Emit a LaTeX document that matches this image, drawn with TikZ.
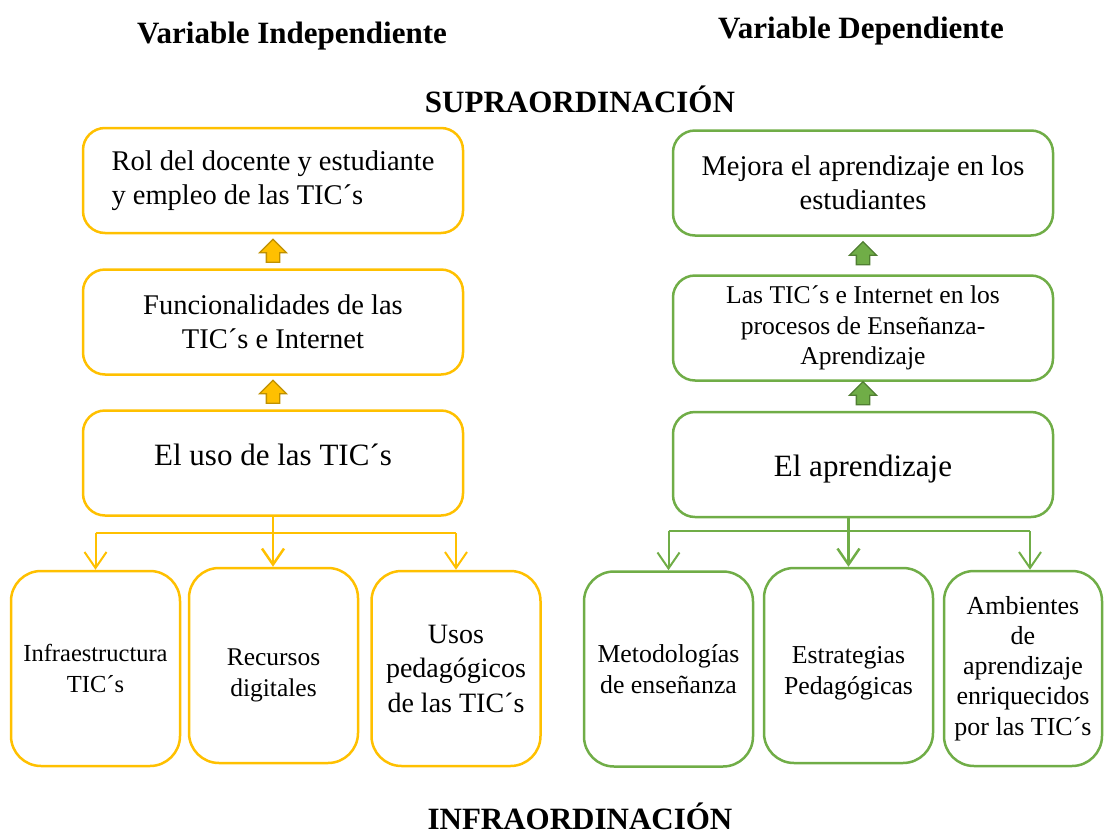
\documentclass[tikz,border=0pt]{standalone}
\usepackage{fontspec}
\setmainfont{Liberation Serif}
\usepackage{tikz}
\usetikzlibrary{arrows.meta,shapes.arrows}

\definecolor{amber}{HTML}{FFC000}
\definecolor{amberdark}{HTML}{BF9000}
\definecolor{leaf}{HTML}{70AD47}
\definecolor{leafdark}{HTML}{507E32}

\tikzset{
  headline/.style={font=\bfseries\fontsize{31}{37}\selectfont, inner sep=0pt, anchor=base},
  topbox/.style={draw, rounded corners=22pt, line width=2.5pt, minimum width=380pt,
    minimum height=105pt, align=center, inner sep=0pt, font=\fontsize{28.5}{34}\selectfont},
  lowbox/.style={draw, rounded corners=30pt, line width=2.5pt, minimum width=169pt,
    minimum height=195pt, align=center, inner sep=0pt},
  ybox/.style={topbox, amber},
  gbox/.style={topbox, leaf},
  ylow/.style={lowbox, amber},
  glow/.style={lowbox, leaf},
  lift/.style={single arrow, shape border rotate=90, minimum height=23pt, minimum width=26pt,
    single arrow head extend=7pt, inner sep=6pt, line width=1.3pt},
  conn/.style={line width=2.5pt, -{Straight Barb[length=16pt,width=22pt]}},
}

\begin{document}
\begin{tikzpicture}[x=1pt,y=-1pt,>=Stealth]
\useasboundingbox (0,0) rectangle (1104,836);

% titulos
\node[headline] (tindep) at (292,43) {Variable Independiente};
\node[headline] (tdep) at (861,38) {Variable Dependiente};
\node[headline] (tsupra) at (580,112) {SUPRAORDINACIÓN};
\node[headline] (tinfra) at (580,829) {INFRAORDINACIÓN};

% variable independiente
\node[ybox, align=left, text=black] (rol) at (273,180.5) {Rol del docente y estudiante\\y empleo de las TIC´s};
\node[ybox, text=black] (func) at (273,322) {Funcionalidades de las\\TIC´s e Internet};
\node[ybox, text=black, font=\fontsize{31}{37}\selectfont, text depth=16pt] (uso) at (273,463) {El uso de las TIC´s};

\node[lift, fill=amber, draw=amberdark] (yup1) at (273,254) {};
\node[lift, fill=amber, draw=amberdark] (yup2) at (273,395) {};

\node[ylow, text=black, font=\fontsize{24.5}{31}\selectfont] (infra) at (95.5,668.5) {Infraestructura\\TIC´s};
\node[ylow, text=black, font=\fontsize{25.5}{31}\selectfont] (rec) at (273.5,665.5) {\rule{0pt}{37pt}Recursos\\digitales};
\node[ylow, text=black, font=\fontsize{28}{34.5}\selectfont] (usos) at (456,668.5) {Usos\\pedagógicos\\de las TIC´s};

% variable dependiente
\node[gbox, text=black] (mej) at (863,183) {Mejora el aprendizaje en los\\estudiantes};
\node[gbox, text=black, font=\fontsize{25.6}{30.5}\selectfont] (tic) at (863,328) {Las TIC´s e Internet en los\\procesos de Enseñanza-\\Aprendizaje};
\node[gbox, text=black, font=\fontsize{31}{37}\selectfont, text height=23pt, text depth=0pt] (apr) at (863,464.5) {El aprendizaje};

\node[lift, fill=leaf, draw=leafdark] (gup1) at (863,256.5) {};
\node[lift, fill=leaf, draw=leafdark] (gup2) at (863,396.5) {};

\node[glow, text=black, font=\fontsize{25.8}{31}\selectfont] (met) at (668.5,669) {Metodologías\\de enseñanza};
\node[glow, text=black, font=\fontsize{25.8}{31}\selectfont] (est) at (848.5,665.5) {\rule{0pt}{32pt}Estrategias\\Pedagógicas};
\node[glow, text=black, font=\fontsize{26}{30.2}\selectfont, minimum width=158pt] (amb) at (1023,668.5) {Ambientes\\de\\aprendizaje\\enriquecidos\\por las TIC´s};

% conectores
\coordinate (yfork) at (273,533);
\draw[conn, amber] (uso.south) -- (uso.south |- rec.north);
\draw[amber, line width=1.5pt] (yfork -| infra.north) -- (yfork -| usos.north);
\draw[conn, amber, line width=2pt] (yfork -| infra.north) -- (infra.north);
\draw[conn, amber, line width=2pt] (yfork -| usos.north) -- (usos.north);

\coordinate (gfork) at (850,531);
\draw[conn, leaf] (apr.south -| est.north) -- (est.north);
\draw[leaf, line width=1.5pt] (gfork -| met.north) -- ([xshift=7pt]gfork -| amb.north);
\draw[conn, leaf, line width=2pt] (gfork -| met.north) -- (met.north);
\draw[conn, leaf, line width=2pt] ([xshift=7pt]gfork -| amb.north) -- ([xshift=7pt]amb.north);

\end{tikzpicture}
\end{document}
